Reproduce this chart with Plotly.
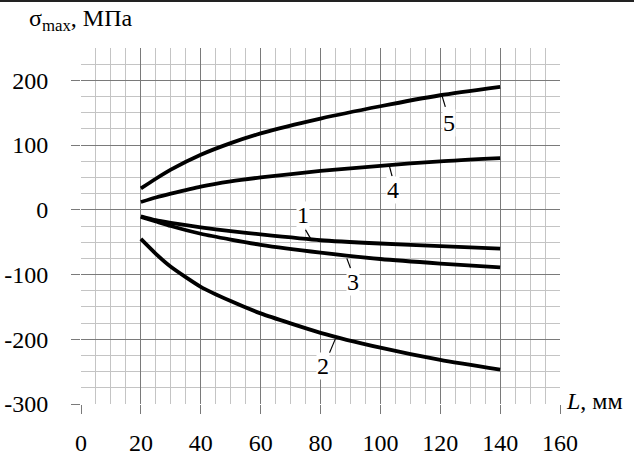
import plotly.graph_objects as go

# ---- data ----
L_mm = [20, 25, 30, 40, 50, 60, 80, 100, 120, 140]
curve1 = [-10, -16, -20, -27, -33, -38, -47, -52, -56, -60]
curve2 = [-45, -68, -88, -119, -141, -160, -190, -213, -232, -247]
curve3 = [-11, -18, -25, -37, -46, -54, -66, -76, -83, -89]
curve4 = [12, 19, 25, 36, 44, 50, 60, 68, 75, 80]
curve5 = [33, 48, 62, 85, 103, 118, 141, 160, 177, 190]
series = [curve1, curve2, curve3, curve4, curve5]

x_ticks = [0, 20, 40, 60, 80, 100, 120, 140, 160]
y_ticks = [-300, -200, -100, 0, 100, 200]

# curve labels: text, text position (x, y), leader from (x0, y0) to (x1, y1)
label_names = ["1", "2", "3", "4", "5"]
label_pos = [(74, -8), (80.8, -242), (91, -111), (104.3, 31), (122.8, 134)]
leader_from = [(75, -31), (85, -199), (88.8, -75), (103, 68), (120.6, 176)]
leader_to = [(76.9, -46), (83, -221), (90, -90), (103.9, 52), (121.7, 159)]

FONT = "Liberation Serif"

fig = go.Figure()
for ys in series:
    fig.add_trace(go.Scatter(x=L_mm, y=ys, mode="lines",
                             line=dict(color="black", width=3.8, shape="spline", smoothing=0.6),
                             showlegend=False, hoverinfo="skip"))

for (x0, y0), (x1, y1) in zip(leader_from, leader_to):
    fig.add_shape(type="line", x0=x0, y0=y0, x1=x1, y1=y1, xref="x", yref="y",
                  line=dict(color="black", width=1.2))

for name, (tx, ty) in zip(label_names, label_pos):
    fig.add_annotation(x=tx, y=ty, xref="x", yref="y", text=name, showarrow=False,
                       font=dict(family=FONT, size=24, color="black"),
                       bgcolor="white", borderpad=0)

fig.add_annotation(x=1.008, y=0.008, xref="paper", yref="paper", xanchor="left", yanchor="middle",
                   text="<i>L</i>, мм", showarrow=False,
                   font=dict(family=FONT, size=24, color="black"))

fig.add_annotation(x=-0.112, y=1.078, xref="paper", yref="paper", xanchor="left", yanchor="middle",
                   text="σ<sub>max</sub>, МПа", showarrow=False,
                   font=dict(family=FONT, size=24, color="black"))

# top border line of the picture
fig.add_shape(type="line", xref="paper", yref="paper",
              x0=-0.2, x1=1.2, y0=1.1329, y1=1.1329,
              line=dict(color="#222", width=2.5))

axis_common = dict(
    showgrid=True, gridcolor="#7a7a7a", gridwidth=1.2,
    zeroline=False, showline=False, automargin=False,
    ticks="outside", ticklen=9, tickcolor="#7a7a7a", tickwidth=1.2,
    tickfont=dict(family=FONT, size=24, color="black"),
)

fig.update_xaxes(range=[0, 160], tickmode="array", tickvals=x_ticks,
                 ticktext=[str(v) for v in x_ticks], ticklabelstandoff=8,
                 minor=dict(tickmode="linear", tick0=0, dtick=5, showgrid=True,
                            gridcolor="#c4c4c4", gridwidth=1, ticks=""),
                 **axis_common)
fig.update_yaxes(range=[-300, 250], tickmode="array", tickvals=y_ticks,
                 ticktext=[str(v) for v in y_ticks], ticklabelstandoff=18,
                 minor=dict(tickmode="linear", tick0=0, dtick=25, showgrid=True,
                            gridcolor="#c4c4c4", gridwidth=1, ticks=""),
                 **axis_common)

fig.update_layout(
    template="none",
    font=dict(family=FONT, size=24, color="black"),
    width=634, height=455,
    margin=dict(l=81, r=74, t=48, b=51, autoexpand=False),
    paper_bgcolor="white", plot_bgcolor="white",
)

fig.write_html("out.html", config={"displayModeBar": False},
               post_script="document.body.style.margin='0';document.body.style.overflow='hidden';")
